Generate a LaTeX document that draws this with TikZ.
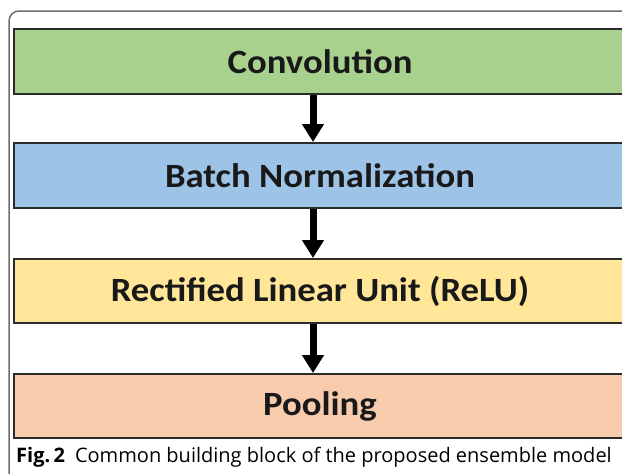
\documentclass[tikz,border=0pt]{standalone}
\usepackage{fontspec}
\setmainfont{Carlito}
\newfontfamily\capfont{Open Sans}
\usetikzlibrary{arrows.meta}
\definecolor{cgreen}{HTML}{A9D18E}
\definecolor{cblue}{HTML}{9DC3E6}
\definecolor{cyellow}{HTML}{FFE699}
\definecolor{cpink}{HTML}{F8CBAD}
\definecolor{cborder}{HTML}{2B2B2B}
\definecolor{cframe}{HTML}{6E6E6E}
\newcommand{\wideT}[1]{\scalebox{1.08}[1]{#1}}
\tikzset{
  blockbox/.style={draw=cborder, line width=2pt, minimum width=612pt, minimum height=65pt, inner sep=0pt,
    font=\fontsize{34}{40}\selectfont\bfseries, text=black!90},
  flowarrow/.style={line width=7pt, -{Triangle[width=21pt,length=18pt]}, black}
}
\begin{document}
\begin{tikzpicture}[x=1pt,y=-1pt]
\useasboundingbox (0,0) rectangle (622,474);
\clip (0,0) rectangle (622,474);
\fill[white] (0,0) rectangle (622,474);
\draw[cframe, line width=1.5pt, rounded corners=10pt] (9,480) -- (9,11) -- (640,11);
\node[blockbox, fill=cgreen] (conv) at (320,61.5) {\wideT{Convolution}};
\node[blockbox, fill=cblue] (bn) at (320,175.5) {\wideT{Batch Normalization}};
\node[blockbox, fill=cyellow, minimum height=64pt] (relu) at (320,291) {\wideT{Rectified Linear Unit (ReLU)}};
\node[blockbox, fill=cpink, minimum height=64pt] (pool) at (320,406) {\wideT{Pooling}};
\draw[flowarrow] ([xshift=-7pt]conv.south) -- ([xshift=-7pt]bn.north);
\draw[flowarrow] ([xshift=-7pt]bn.south) -- ([xshift=-7pt]relu.north);
\draw[flowarrow] ([xshift=-7pt]relu.south) -- ([xshift=-7pt]pool.north);
\node[anchor=west, inner sep=0pt, font=\capfont\fontsize{20}{23}\selectfont] (cap) at (16,457)
  {\textbf{Fig.\,2}\hspace{0.5em}Common building block of the proposed ensemble model};
\end{tikzpicture}
\end{document}
